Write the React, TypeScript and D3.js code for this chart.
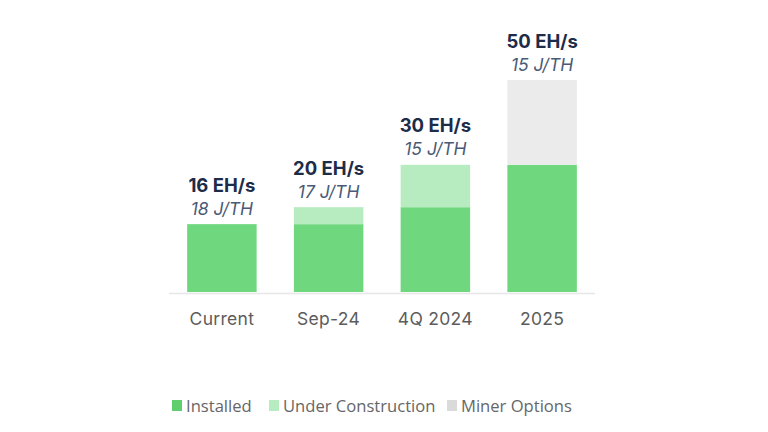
import React from "react";
import * as d3 from "d3";

const categories = ["Current", "Sep-24", "4Q 2024", "2025"];
const installed = [16, 16, 20, 30];
const underConstruction = [0, 4, 10, 0];
const minerOptions = [0, 0, 0, 20];
const hashLabels = ["16 EH/s", "20 EH/s", "30 EH/s", "50 EH/s"];
const efficiencyLabels = ["18 J/TH", "17 J/TH", "15 J/TH", "15 J/TH"];
const seriesKeys = ["Installed", "Under Construction", "Miner Options"];
const seriesColors = ["#6fd77e", "#b7ecc0", "#ebebeb"];
const legendSwatch = ["#5fcf6e", "#b7ecc0", "#dadada"];

export default function App() {
  const W = 768, H = 432;
  const x = d3.scaleBand<string>().domain(categories).range([169, 595]).paddingInner(0.349).paddingOuter(0.17);
  const y = d3.scaleLinear().domain([0, 50]).range([292, 80]);

  const rows = categories.map((c, i) => ({
    cat: c,
    "Installed": installed[i],
    "Under Construction": underConstruction[i],
    "Miner Options": minerOptions[i],
  }));
  const stacked = d3.stack<any>().keys(seriesKeys)(rows);
  const totals = categories.map((_, i) => installed[i] + underConstruction[i] + minerOptions[i]);

  const legendX = [172, 269, 447];
  const font = "Inter, 'Noto Sans', sans-serif";

  return (
    <svg width={W} height={H} style={{ position: "absolute", left: 0, top: 0, background: "#fff" }}>
      {stacked.map((s, si) => (
        <g key={s.key}>
          {s.map((d, i) =>
            d[1] - d[0] > 0 ? (
              <rect key={i} x={x(categories[i])} width={x.bandwidth()} y={y(d[1])} height={y(d[0]) - y(d[1])} fill={seriesColors[si]} />
            ) : null
          )}
        </g>
      ))}
      <line x1={169} x2={595} y1={293.5} y2={293.5} stroke="#e6e6e6" strokeWidth={1.5} />
      {categories.map((c, i) => (
        <text key={c} x={(x(c) as number) + x.bandwidth() / 2} y={325} textAnchor="middle" fontFamily={font} fontSize={17.5} letterSpacing={0.3} fill="#5c5c5c">{c}</text>
      ))}
      {categories.map((c, i) => (
        <g key={"l" + c}>
          <text x={(x(c) as number) + x.bandwidth() / 2} y={y(totals[i]) - 32.5} textAnchor="middle" fontFamily={font} fontWeight={700} fontSize={18.5} fill="#1d2c48">{hashLabels[i]}</text>
          <text x={(x(c) as number) + x.bandwidth() / 2} y={y(totals[i]) - 9.5} textAnchor="middle" fontFamily={font} fontStyle="italic" fontSize={17.5} fill="#4a5a76">{efficiencyLabels[i]}</text>
        </g>
      ))}
      {seriesKeys.map((k, i) => (
        <g key={"lg" + k}>
          <rect x={legendX[i]} y={400} width={10} height={11} fill={legendSwatch[i]} />
          <text x={legendX[i] + 14} y={411.5} fontFamily="'Open Sans', sans-serif" fontSize={16.6} fill="#666">{k}</text>
        </g>
      ))}
    </svg>
  );
}
